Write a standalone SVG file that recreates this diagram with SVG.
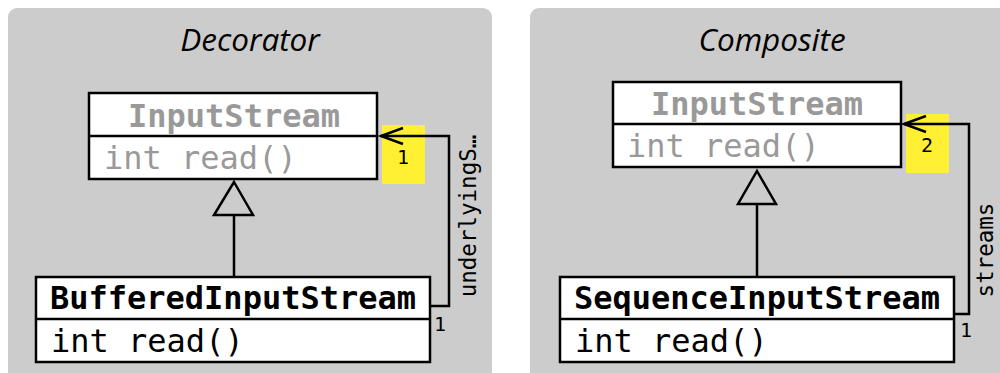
<svg xmlns="http://www.w3.org/2000/svg" width="1000" height="373" viewBox="0 0 1000 373">
<style>
.panel{fill:#cccccc}
.box{fill:#ffffff;stroke:#000;stroke-width:2.5}
.line{fill:none;stroke:#000;stroke-width:2.5}
.title{font-family:"Open Sans","Noto Sans",sans-serif;font-style:italic;font-size:31.5px;fill:#000;text-anchor:middle}
.mono{font-family:"DejaVu Sans Mono","Liberation Mono",monospace;font-size:32px}
.name{font-weight:bold}
.abs{fill:#999999}
.conc{fill:#000}
.mult{font-family:"DejaVu Sans Mono","Liberation Mono",monospace;font-size:20px;fill:#000}
.role{font-family:"DejaVu Sans Mono","Liberation Mono",monospace;font-size:22.5px;fill:#000}
.hl{fill:#fff033}
</style>
<rect class="panel" x="8" y="8" width="484" height="380" rx="9"/>
<rect class="panel" x="530" y="8" width="484" height="380" rx="9"/>
<text class="title" x="250" y="51">Decorator</text>
<text class="title" x="772" y="51">Composite</text>

<g id="connectors">
  <rect class="hl" x="382" y="125" width="43" height="59"/>
  <rect class="hl" x="906" y="114" width="43" height="59"/>
  <path class="line" d="M234,277 V215"/>
  <path class="line" d="M234,182 L253,215 L214,215 Z"/>
  <path class="line" d="M430,306 H449 V136 H381"/>
  <path class="line" d="M403,128 L381,136 L403,144"/>
  <text class="mult" x="397" y="164">1</text>
  <text class="mult" x="434" y="331">1</text>
  <text class="role" transform="translate(476,216) rotate(-90)" text-anchor="middle">underlyingS…</text>

  <path class="line" d="M757,277 V204"/>
  <path class="line" d="M757,171 L776,204 L738,204 Z"/>
  <path class="line" d="M954,314 H969 V124 H904"/>
  <path class="line" d="M926,116 L904,124 L926,132"/>
  <text class="mult" x="921" y="152">2</text>
  <text class="mult" x="960" y="337">1</text>
  <text class="role" transform="translate(993,250) rotate(-90)" text-anchor="middle">streams</text>
</g>

<g id="dec-inputstream">
  <rect class="box" x="89" y="93" width="288" height="86"/>
  <line class="line" x1="89" y1="136" x2="377" y2="136"/>
  <text class="mono name abs" x="234" y="127" text-anchor="middle">InputStream</text>
  <text class="mono abs" x="104" y="169">int read()</text>
</g>
<g id="dec-buffered">
  <rect class="box" x="36" y="277" width="394" height="85"/>
  <line class="line" x1="36" y1="319" x2="430" y2="319"/>
  <text class="mono name conc" x="233" y="309" text-anchor="middle">BufferedInputStream</text>
  <text class="mono conc" x="51" y="352">int read()</text>
</g>
<g id="comp-inputstream">
  <rect class="box" x="613" y="82" width="288" height="85"/>
  <line class="line" x1="613" y1="124" x2="901" y2="124"/>
  <text class="mono name abs" x="757" y="115" text-anchor="middle">InputStream</text>
  <text class="mono abs" x="627" y="157">int read()</text>
</g>
<g id="comp-sequence">
  <rect class="box" x="560" y="277" width="394" height="85"/>
  <line class="line" x1="560" y1="319" x2="954" y2="319"/>
  <text class="mono name conc" x="757" y="309" text-anchor="middle">SequenceInputStream</text>
  <text class="mono conc" x="575" y="352">int read()</text>
</g>
</svg>
